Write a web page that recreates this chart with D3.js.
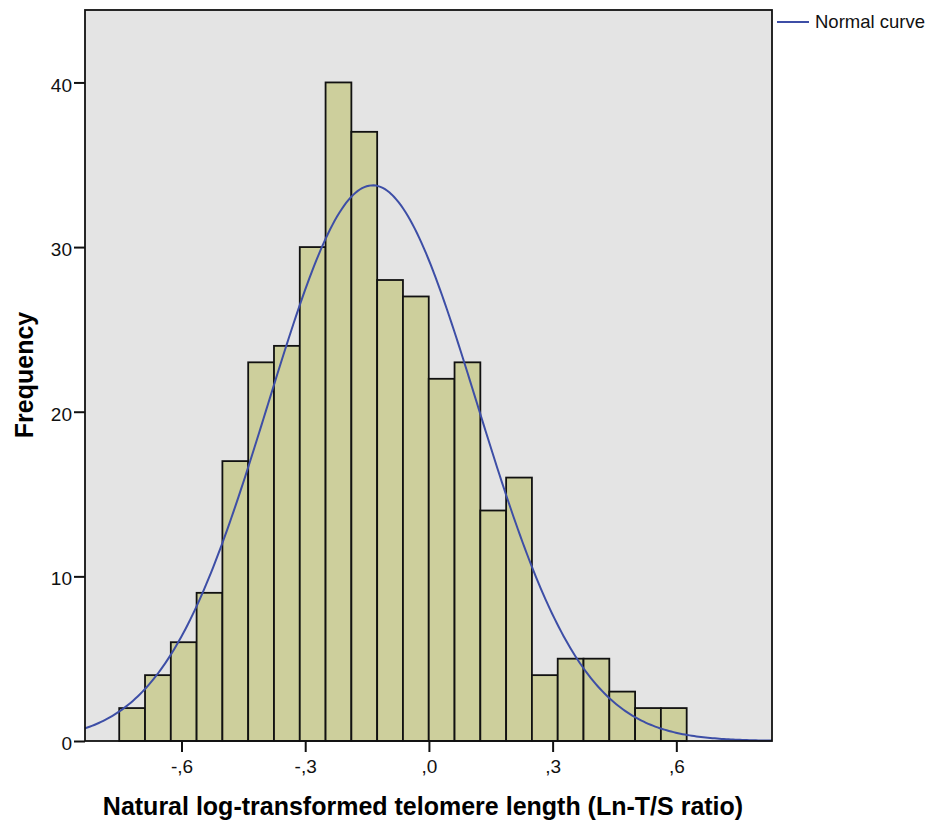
<!DOCTYPE html>
<html>
<head>
<meta charset="utf-8">
<script src="https://cdn.jsdelivr.net/npm/d3@7"></script>
<style>
  body { margin: 0; background: #fff; }
  svg { display: block; font-family: "Liberation Sans", Arial, sans-serif; }
</style>
</head>
<body>
<div id="chart"></div>
<script>
// Histogram of Ln-T/S ratio with fitted normal curve
const binStart = -0.751;
const binWidth = 0.06255;
const counts = [2, 4, 6, 9, 17, 23, 24, 30, 40, 37, 28, 27, 22, 23, 14, 16, 4, 5, 5, 3, 2, 2];
const xTicks = [-0.6, -0.3, 0, 0.3, 0.6];
const yTicks = [0, 10, 20, 30, 40];
const curveMean = -0.1365;
const curveSd = 0.2536;

const width = 941, height = 824;
const m = { left: 85, right: 169, top: 10, bottom: 83 };

const svg = d3.select('#chart').append('svg').attr('width', width).attr('height', height);

const x = d3.scaleLinear().domain([-0.834, 0.832]).range([m.left, width - m.right]);
const y = d3.scaleLinear().domain([0, 44.4]).range([height - m.bottom, m.top]);

// plot background
svg.append('rect')
  .attr('x', m.left).attr('y', m.top)
  .attr('width', width - m.left - m.right).attr('height', height - m.top - m.bottom)
  .attr('fill', '#e4e4e4');

const bins = counts.map((c, i) => ({ x0: binStart + i * binWidth, x1: binStart + (i + 1) * binWidth, n: c }));

svg.selectAll('rect.bar').data(bins).enter().append('rect')
  .attr('class', 'bar')
  .attr('x', d => x(d.x0))
  .attr('width', d => x(d.x1) - x(d.x0))
  .attr('y', d => y(d.n))
  .attr('height', d => y(0) - y(d.n))
  .attr('fill', '#cdcf9c')
  .attr('stroke', '#111')
  .attr('stroke-width', 1.8);

// normal curve scaled to counts
const total = d3.sum(counts);
const pts = d3.range(0, 301).map(i => {
  const v = x.domain()[0] + (x.domain()[1] - x.domain()[0]) * i / 300;
  const z = (v - curveMean) / curveSd;
  return [v, total * binWidth * Math.exp(-0.5 * z * z) / (curveSd * Math.sqrt(2 * Math.PI))];
});
svg.append('path')
  .attr('d', d3.line().x(d => x(d[0])).y(d => y(d[1]))(pts))
  .attr('fill', 'none')
  .attr('stroke', '#3d4ea6')
  .attr('stroke-width', 2);

// frame
svg.append('rect')
  .attr('x', m.left).attr('y', m.top)
  .attr('width', width - m.left - m.right).attr('height', height - m.top - m.bottom)
  .attr('fill', 'none').attr('stroke', '#111').attr('stroke-width', 1.8);

const fmt = v => (v < 0 ? '-' : '') + ',' + Math.round(Math.abs(v) * 10);

const xAxis = svg.append('g')
  .attr('transform', `translate(0,${height - m.bottom})`)
  .call(d3.axisBottom(x).tickValues(xTicks).tickSize(11).tickPadding(8).tickFormat(fmt));
const yAxis = svg.append('g')
  .attr('transform', `translate(${m.left},0)`)
  .call(d3.axisLeft(y).tickValues(yTicks).tickSize(11).tickPadding(2).tickFormat(d3.format('d')));

[xAxis, yAxis].forEach(g => {
  g.select('.domain').remove();
  g.selectAll('line').attr('stroke', '#111').attr('stroke-width', 2);
  g.selectAll('text').attr('fill', '#111').style('font-size', '19px').style('font-family', '"Liberation Sans", Arial, sans-serif');
});
yAxis.selectAll('text').attr('dy', '0.45em');

svg.append('text')
  .attr('x', 423).attr('y', 815)
  .attr('text-anchor', 'middle')
  .style('font-size', '25px').style('font-weight', 'bold')
  .text('Natural log-transformed telomere length (Ln-T/S ratio)');

svg.append('text')
  .attr('transform', 'translate(33,375) rotate(-90)')
  .attr('text-anchor', 'middle')
  .style('font-size', '25px').style('font-weight', 'bold')
  .text('Frequency');

// legend
const lg = svg.append('g');
lg.append('line').attr('x1', 777).attr('x2', 809).attr('y1', 22).attr('y2', 22)
  .attr('stroke', '#3d4ea6').attr('stroke-width', 2);
lg.append('text').attr('x', 815).attr('y', 28).style('font-size', '18.5px').attr('fill', '#111').text('Normal curve');
</script>
</body>
</html>
